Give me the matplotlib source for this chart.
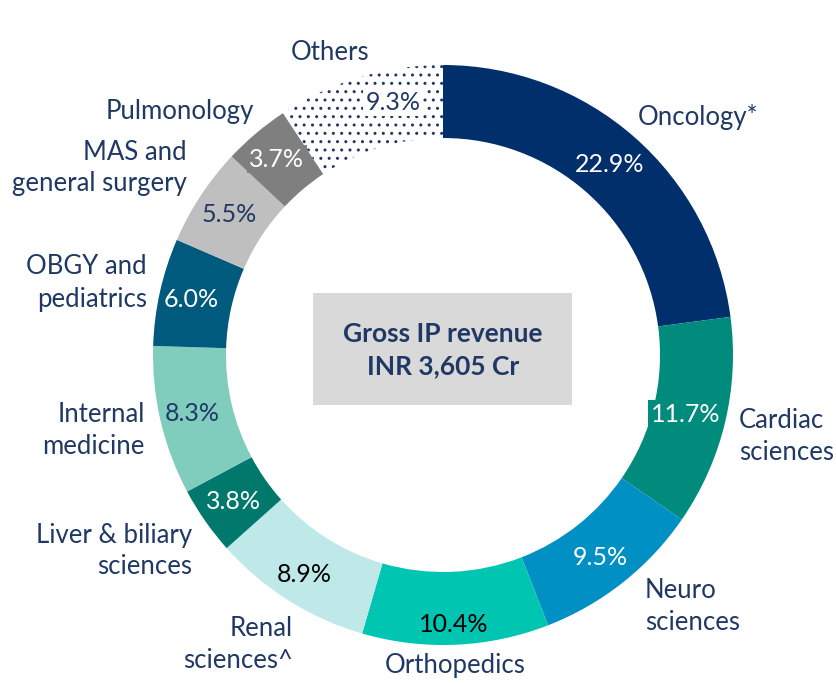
import matplotlib
matplotlib.use("Agg")
import matplotlib.pyplot as plt
import numpy as np

plt.rcParams["font.family"] = ["Lato", "DejaVu Sans"]
plt.rcParams["hatch.linewidth"] = 1.0

# data
categories = ["Oncology*", "Cardiac\nsciences", "Neuro\nsciences", "Orthopedics",
              "Renal\nsciences^", "Liver & biliary\nsciences", "Internal\nmedicine",
              "OBGY and\npediatrics", "MAS and\ngeneral surgery", "Pulmonology", "Others"]
shares = [22.9, 11.7, 9.5, 10.4, 8.9, 3.8, 8.3, 6.0, 5.5, 3.7, 9.3]
pct_labels = ["22.9%", "11.7%", "9.5%", "10.4%", "8.9%", "3.8%", "8.3%",
              "6.0%", "5.5%", "3.7%", "9.3%"]
center_title = "Gross IP revenue\nINR 3,605 Cr"

# styling
NAVY = "#1f3864"
colors = ["#002f6c", "#008b7d", "#0090c4", "#00c5b1", "#bfe8e8", "#00786c",
          "#80cdbe", "#005a7d", "#bfbfbf", "#7f7f7f", "white"]
pct_colors = ["white", "white", "white", "black", "black", "white", NAVY,
              "white", NAVY, "white", NAVY]
# label boxes drawn in the wedge colour (None = no box)
pct_boxes = [None, "#008b7d", None, None, None, "#00786c", None,
             None, None, "#7f7f7f", "white"]
# nudges of the percentage labels from the ring middle, pixels (dx, dy down)
pct_nudge = [(0, 0), (-4, 0), (0, 4), (0, 16), (-4, 5), (-2, 1), (-4, 1),
             (-4, 0), (-2, -1), (-3, -2), (23, -10)]

# category label anchors in pixels (x, y from top)
cat_pos = [(638, 117, "left"), (739, 436, "left"), (645, 607, "left"),
           (455, 666, "center"), (293, 645, "right"), (192, 551, "right"),
           (145, 430, "right"), (147, 283, "right"), (187, 168, "right"),
           (180, 112, "center"), (330, 52, "center")]

W, H = 836, 684
CX, CY, R, RING = 443, H - 355, 290, 73

fig = plt.figure(figsize=(W / 100, H / 100), dpi=100)
ax = fig.add_axes([0, 0, 1, 1])

wedges, _ = ax.pie(shares, colors=colors, startangle=90, counterclock=False,
                   center=(CX, CY), radius=R, frame=True,
                   wedgeprops=dict(width=RING, linewidth=0))
ax.set_xlim(0, W)
ax.set_ylim(0, H)
ax.set_aspect("equal")
ax.axis("off")

others = wedges[-1]
others.set_hatch("..")
others.set_edgecolor(NAVY)
others.set_linewidth(0)

r_mid = R - RING / 2
for w, txt, col, box, (dx, dy) in zip(wedges, pct_labels, pct_colors,
                                       pct_boxes, pct_nudge):
    ang = np.deg2rad((w.theta1 + w.theta2) / 2)
    x = CX + r_mid * np.cos(ang) + dx
    y = CY + r_mid * np.sin(ang) - dy
    bbox = None
    if box is not None:
        bbox = dict(boxstyle="square,pad=0.1", fc=box, ec="none")
    ax.text(x, y, txt, color=col, fontsize=18, ha="center", va="center",
            bbox=bbox)

for txt, (x, y, ha) in zip(categories, cat_pos):
    ax.text(x, H - y, txt, color=NAVY, fontsize=18.5, ha=ha, va="center",
            multialignment=ha, linespacing=1.35)

ax.add_patch(plt.Rectangle((313, H - 405), 259, 112, fc="#d9d9d9", ec="none"))
ax.text(443, H - 350, center_title, color=NAVY, fontsize=19, fontweight="bold",
        ha="center", va="center", linespacing=1.45)

fig.savefig("out.png", dpi=100)
